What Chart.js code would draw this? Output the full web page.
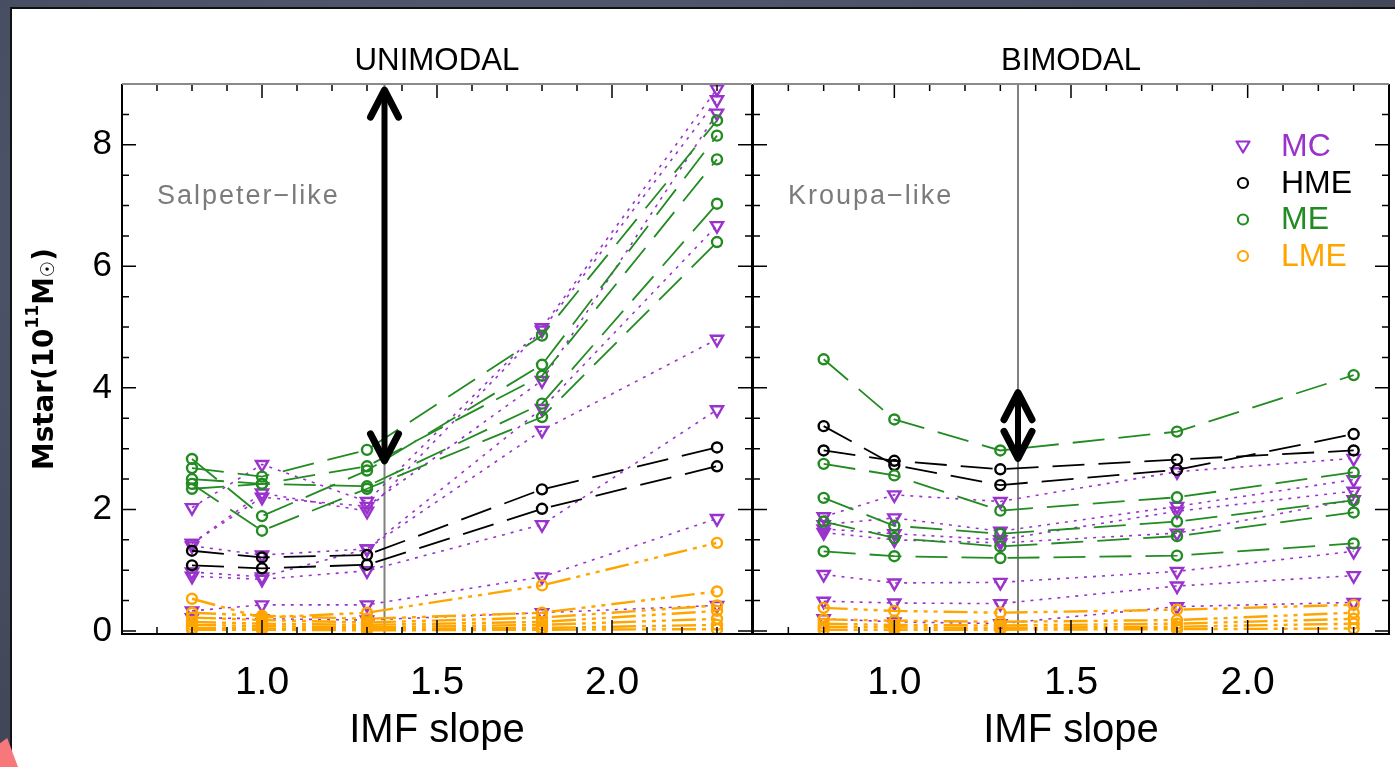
<!DOCTYPE html>
<html>
<head>
<meta charset="utf-8">
<script src="https://cdn.jsdelivr.net/npm/chart.js@4.4.1/dist/chart.umd.min.js"></script>
<style>
html, body { margin: 0; padding: 0; }
body {
    width: 1395px; height: 767px; overflow: hidden; position: relative;
    background: radial-gradient(ellipse at 40% 30%, #59607a 0%, #474d60 60%, #3c4152 100%);
}
#sheet {
    position: absolute; left: 10px; top: 7px; width: 1385px; height: 760px;
    background: #fff; border-left: 2px solid #111; border-top: 2px solid #111; box-sizing: border-box;
}
#corner {
    position: absolute; left: 0; top: 738px; width: 18px; height: 29px; background: #f7787a;
    clip-path: polygon(0 18%, 40% 0, 100% 100%, 0 100%);
}
canvas { position: absolute; top: 0; }
#uniChart { left: 0; }
#biChart { left: 750px; }
</style>
</head>
<body>
<div id="sheet"></div>
<div id="corner"></div>
<canvas id="uniChart" width="755" height="767"></canvas>
<canvas id="biChart" width="645" height="767"></canvas>
<script>
const slopes = [0.8, 1.0, 1.3, 1.8, 2.3];
const salpeterSlope = 1.35;
const xTickValues = [1.0, 1.5, 2.0];
const yTickValues = [0, 2, 4, 6, 8];

// UNIMODAL panel, one row per galaxy (values at each slope)
const uniMC = [
    [2.03, 2.74, 2.13, 4.99, 8.92],
    [1.44, 2.27, 1.97, 4.95, 8.74],
    [1.44, 2.20, 2.05, 4.12, 8.52],
    [1.40, 1.25, 1.35, 3.66, 6.67],
    [0.97, 0.89, 1.35, 3.30, 4.80],
    [0.90, 0.85, 0.99, 1.75, 3.64],
    [0.33, 0.43, 0.43, 0.89, 1.85],
    [0.22, 0.20, 0.18, 0.30, 0.42]
];
const uniHME = [
    [1.32, 1.21, 1.25, 2.33, 3.02],
    [1.08, 1.03, 1.09, 2.01, 2.71]
];
const uniME = [
    [2.83, 1.89, 2.64, 4.38, 8.15],
    [2.68, 2.54, 2.98, 4.86, 8.40],
    [2.50, 2.42, 2.38, 3.74, 7.03],
    [2.42, 1.65, 2.34, 3.52, 6.40],
    [2.34, 2.42, 2.71, 4.20, 7.76]
];
const uniLME = [
    [0.53, 0.22, 0.30, 0.75, 1.45],
    [0.30, 0.25, 0.20, 0.30, 0.65],
    [0.22, 0.18, 0.14, 0.22, 0.42],
    [0.15, 0.12, 0.10, 0.15, 0.33],
    [0.10, 0.08, 0.06, 0.10, 0.20],
    [0.05, 0.04, 0.03, 0.05, 0.10],
    [0.02, 0.02, 0.01, 0.02, 0.03]
];

// BIMODAL panel
const biMC = [
    [1.88, 2.24, 2.13, 2.62, 2.84],
    [1.75, 1.86, 1.64, 2.05, 2.49],
    [1.68, 1.60, 1.50, 1.97, 2.30],
    [1.62, 1.50, 1.45, 1.61, 2.16],
    [0.93, 0.79, 0.80, 0.98, 1.31],
    [0.49, 0.46, 0.45, 0.74, 0.91],
    [0.20, 0.15, 0.12, 0.40, 0.47]
];
const biHME = [
    [3.37, 2.73, 2.40, 2.65, 3.24],
    [2.97, 2.80, 2.66, 2.82, 2.97]
];
const biME = [
    [4.47, 3.48, 2.97, 3.28, 4.21],
    [2.75, 2.56, 1.98, 2.20, 2.61],
    [2.19, 1.73, 1.60, 1.80, 2.15],
    [1.80, 1.53, 1.39, 1.56, 1.95],
    [1.31, 1.23, 1.20, 1.24, 1.44]
];
const biLME = [
    [0.38, 0.33, 0.30, 0.35, 0.43],
    [0.19, 0.17, 0.15, 0.18, 0.30],
    [0.12, 0.10, 0.09, 0.12, 0.20],
    [0.07, 0.06, 0.05, 0.07, 0.12],
    [0.02, 0.02, 0.02, 0.03, 0.04]
];

// arrow ends (Mstar) at the Salpeter slope
const uniArrow = [2.8, 8.9];
const biArrow = [2.84, 3.92];

const legendNames = ['MC', 'HME', 'ME', 'LME'];

const styles = {
    MC:  { color: '#9933cc', dash: [3, 6], width: 1.6, point: 'triangle', radius: 7, order: 3 },
    HME: { color: '#000000', dash: [32, 14], width: 1.8, point: 'circle', radius: 5, order: 2 },
    ME:  { color: '#228b22', dash: [32, 14], width: 1.8, point: 'circle', radius: 5, order: 1 },
    LME: { color: '#ffa500', dash: [24, 6, 4, 6, 4, 6, 4, 6], width: 2.4, point: 'circle', radius: 5, order: 0 }
};

function seriesSets(list, kind) {
    const st = styles[kind];
    return list.map(vals => ({
        data: slopes.map((s, i) => ({ x: s, y: vals[i] })),
        borderColor: st.color,
        borderWidth: st.width,
        borderDash: st.dash,
        pointStyle: st.point,
        pointRotation: st.point === 'triangle' ? 180 : 0,
        pointRadius: st.radius,
        pointBorderWidth: 2.4,
        pointBorderColor: st.color,
        pointBackgroundColor: 'rgba(255,255,255,0)',
        fill: false,
        tension: 0,
        order: st.order
    }));
}

function drawArrowHead(ctx, x, y, dir) {
    ctx.beginPath();
    ctx.moveTo(x - 14, y - dir * 27);
    ctx.lineTo(x, y);
    ctx.lineTo(x + 14, y - dir * 27);
    ctx.stroke();
}

function drawYTitle(ctx, cx, cy) {
    const parts = [
        { t: 'Mstar(10', f: 'bold 29px "DejaVu Sans"', dy: 0 },
        { t: '11', f: 'bold 18px "DejaVu Sans"', dy: -12 },
        { t: 'M', f: 'bold 29px "DejaVu Sans"', dy: 0 },
        { t: '\u2609', f: 'bold 19px "DejaVu Sans"', dy: 4 },
        { t: ')', f: 'bold 29px "DejaVu Sans"', dy: 0 }
    ];
    let total = 0;
    parts.forEach(p => { ctx.font = p.f; p.w = ctx.measureText(p.t).width; total += p.w; });
    const k = Math.min(1, 222 / total);
    ctx.save();
    ctx.translate(cx, cy);
    ctx.rotate(-Math.PI / 2);
    ctx.scale(k, 1);
    ctx.fillStyle = '#000';
    ctx.textBaseline = 'middle';
    let x = -total / 2;
    parts.forEach(p => { ctx.font = p.f; ctx.fillText(p.t, x, p.dy); x += p.w; });
    ctx.restore();
}

const panelDeco = {
    id: 'panelDeco',
    beforeDatasetsDraw(chart, args, o) {
        const { ctx, chartArea: a, scales: { x } } = chart;
        const px = x.getPixelForValue(salpeterSlope);
        ctx.save();
        ctx.strokeStyle = '#808080';
        ctx.lineWidth = 2;
        ctx.beginPath();
        ctx.moveTo(px, a.top);
        ctx.lineTo(px, a.bottom);
        ctx.stroke();
        ctx.restore();
    },
    afterDraw(chart, args, o) {
        const { ctx, chartArea: a, scales: { x, y } } = chart;
        ctx.save();

        // inward ticks on all four sides
        ctx.strokeStyle = '#000';
        ctx.lineWidth = 1.5;
        for (let v = 6; v <= 24; v++) {
            const px = x.getPixelForValue(v / 10);
            const len = v % 5 === 0 ? 14 : 7;
            ctx.beginPath();
            ctx.moveTo(px, a.bottom); ctx.lineTo(px, a.bottom - len);
            ctx.moveTo(px, a.top); ctx.lineTo(px, a.top + len);
            ctx.stroke();
        }
        for (let v = 0; v <= 18; v++) {
            const py = y.getPixelForValue(v / 2);
            const len = v % 4 === 0 ? 14 : 7;
            ctx.beginPath();
            ctx.moveTo(a.left, py); ctx.lineTo(a.left + len, py);
            ctx.moveTo(a.right, py); ctx.lineTo(a.right - len, py);
            ctx.stroke();
        }

        // frame
        ctx.lineWidth = 2;
        ctx.strokeStyle = '#000';
        ctx.beginPath();
        ctx.moveTo(a.left, a.top); ctx.lineTo(a.left, a.bottom);
        ctx.lineTo(a.right, a.bottom); ctx.lineTo(a.right, a.top);
        ctx.stroke();
        ctx.strokeStyle = '#8a8a8a';
        ctx.beginPath();
        ctx.moveTo(a.left, a.top); ctx.lineTo(a.right, a.top);
        ctx.stroke();

        // double arrow
        const ax = x.getPixelForValue(salpeterSlope);
        const yLo = y.getPixelForValue(o.arrow[0]);
        const yHi = y.getPixelForValue(o.arrow[1]);
        ctx.strokeStyle = '#000';
        ctx.lineCap = 'round';
        ctx.lineJoin = 'round';
        ctx.lineWidth = 6;
        ctx.beginPath();
        ctx.moveTo(ax, yLo - 3); ctx.lineTo(ax, yHi + 3);
        ctx.stroke();
        ctx.lineWidth = 7;
        drawArrowHead(ctx, ax, yLo, 1);
        drawArrowHead(ctx, ax, yHi, -1);

        // texts
        const cx = (a.left + a.right) / 2;
        ctx.fillStyle = '#000';
        ctx.textBaseline = 'alphabetic';
        ctx.textAlign = 'center';
        ctx.font = '32px "Liberation Sans"';
        ctx.fillText(o.title, cx, a.top - 14, o.titleWidth);
        ctx.font = '40px "Liberation Sans"';
        ctx.fillText('IMF slope', cx, a.bottom + 108, 180);
        ctx.textAlign = 'left';
        ctx.fillStyle = '#7b7b7b';
        ctx.font = '27px "Liberation Sans"';
        ctx.letterSpacing = '2px';
        ctx.fillText(o.note, a.left + 35, a.top + 120, o.noteWidth);
        ctx.letterSpacing = '0px';

        if (o.yTitle) {
            drawYTitle(ctx, a.left - 77, (a.top + a.bottom) / 2);
        }

        if (o.legend) {
            const sx = a.right - 146;
            const tx = a.right - 108;
            legendNames.forEach((name, i) => {
                const st = styles[name];
                const ly = a.top + 62.5 + 36.5 * i;
                ctx.strokeStyle = st.color;
                ctx.lineWidth = 2.2;
                ctx.beginPath();
                if (st.point === 'triangle') {
                    ctx.moveTo(sx - 6.5, ly - 5);
                    ctx.lineTo(sx + 6.5, ly - 5);
                    ctx.lineTo(sx, ly + 6);
                    ctx.closePath();
                } else {
                    ctx.arc(sx, ly, 5, 0, Math.PI * 2);
                }
                ctx.stroke();
                ctx.fillStyle = st.color;
                ctx.font = '32px "Liberation Sans"';
                ctx.textBaseline = 'middle';
                ctx.fillText(name, tx, ly + 1);
            });
        }
        ctx.restore();
    }
};

function panelOptions(showY, padding, deco) {
    return {
        responsive: false,
        animation: false,
        devicePixelRatio: 1,
        layout: { padding: padding, autoPadding: false },
        scales: {
            x: {
                type: 'linear',
                min: 0.6,
                max: 2.4,
                grid: { display: false, drawTicks: false },
                border: { display: false },
                afterFit: s => { s.height = 133; },
                ticks: {
                    stepSize: 0.5,
                    includeBounds: false,
                    autoSkip: false,
                    maxRotation: 0,
                    padding: 26,
                    color: '#000',
                    font: { family: 'Liberation Sans', size: 39 },
                    callback: v => xTickValues.includes(+v.toFixed(1)) ? v.toFixed(1) : ''
                }
            },
            y: {
                type: 'linear',
                display: showY,
                min: -0.05,
                max: 9,
                grid: { display: false, drawTicks: false },
                border: { display: false },
                afterFit: s => { s.width = showY ? 122 : 0; },
                ticks: {
                    stepSize: 2,
                    includeBounds: false,
                    padding: 10,
                    color: '#000',
                    font: { family: 'Liberation Sans', size: 35 },
                    callback: v => yTickValues.includes(+v.toFixed(0)) ? v.toFixed(0) : ''
                }
            }
        },
        plugins: {
            legend: { display: false },
            tooltip: { enabled: false },
            panelDeco: deco
        }
    };
}

function buildPanel(canvasId, mc, hme, me, lme, showY, padding, deco) {
    const ctx = document.getElementById(canvasId).getContext('2d');
    new Chart(ctx, {
        type: 'line',
        data: {
            datasets: [
                ...seriesSets(lme, 'LME'),
                ...seriesSets(me, 'ME'),
                ...seriesSets(hme, 'HME'),
                ...seriesSets(mc, 'MC')
            ]
        },
        options: panelOptions(showY, padding, deco),
        plugins: [panelDeco]
    });
}

buildPanel('uniChart', uniMC, uniHME, uniME, uniLME, true,
    { left: 0, right: 3, top: 84, bottom: 0 },
    { title: 'UNIMODAL', titleWidth: 165, note: 'Salpeter\u2212like', noteWidth: 190, arrow: uniArrow, yTitle: true, legend: false });

buildPanel('biChart', biMC, biHME, biME, biLME, false,
    { left: 3, right: 6, top: 84, bottom: 0 },
    { title: 'BIMODAL', titleWidth: 140, note: 'Kroupa\u2212like', noteWidth: 175, arrow: biArrow, yTitle: false, legend: true });
</script>
</body>
</html>
